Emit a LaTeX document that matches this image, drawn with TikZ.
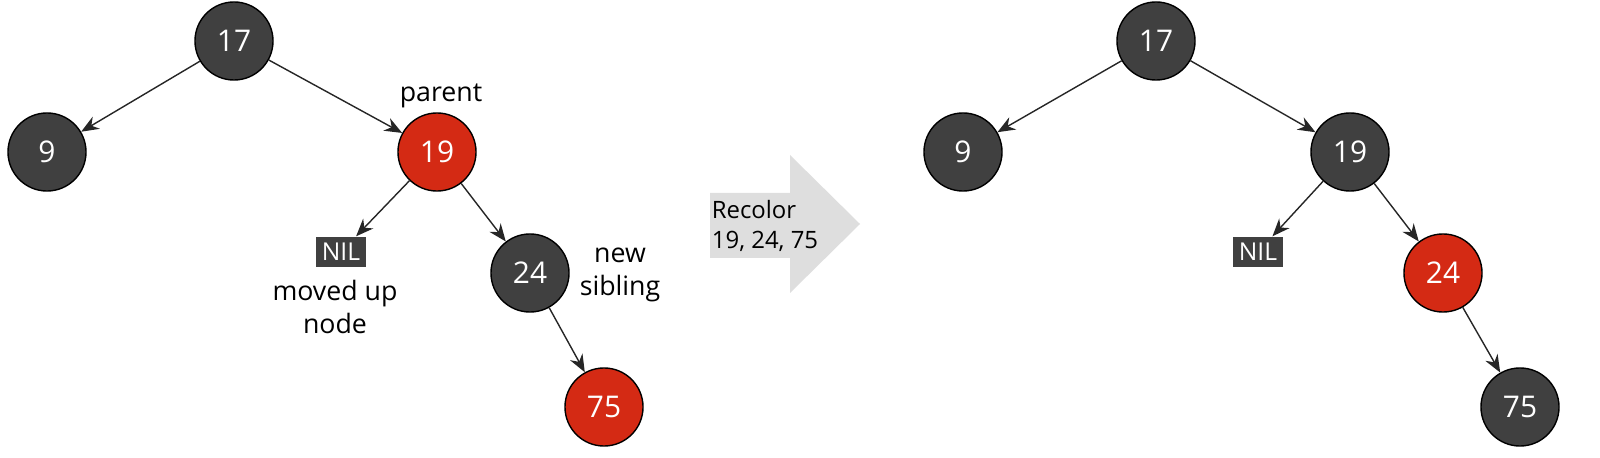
\documentclass[tikz,border=0pt]{standalone}
\usepackage{fontspec}
\setmainfont{Open Sans}
\usetikzlibrary{arrows.meta}
\definecolor{nodegray}{HTML}{404040}
\definecolor{nodered}{HTML}{D42A14}
\tikzset{
  rb node/.style={circle, draw=black, thin, minimum size=0.78cm, inner sep=0pt,
    text=white, font=\fontsize{8.5}{10}\selectfont},
  black node/.style={rb node, fill=nodegray},
  red node/.style={rb node, fill=nodered},
  nil node/.style={rectangle, fill=nodegray, text=white, inner sep=1.5pt,
    minimum width=0.5cm, minimum height=0.3cm, font=\fontsize{7}{8}\selectfont},
  tree edge/.style={-{Stealth[length=5pt,width=4pt]}, thin, black!85},
  note/.style={align=center, font=\fontsize{7.6}{9.5}\selectfont}
}
\begin{document}
\begin{tikzpicture}[x=0.01cm,y=-0.01cm]
\useasboundingbox (0,0) rectangle (1600,458);
% before recolouring
\node[black node] (l17) at (234,41) {17};
\node[black node] (l9) at (47,152) {9};
\node[red node] (l19) at (437,152) {19};
\node[nil node] (lnil) at (341,252) {NIL};
\node[black node] (l24) at (530,273) {24};
\node[red node] (l75) at (604,407) {75};
\draw[tree edge] (l17) -- (l9);
\draw[tree edge] (l17) -- (l19);
\draw[tree edge] (l19) -- (lnil);
\draw[tree edge] (l19) -- (l24);
\draw[tree edge] (l24) -- (l75);
\node[note] (parent) at (441,96) {parent};
\node[note] (moved) at (335,307) {moved up\\node};
\node[note] (sibling) at (620,275) {new\\sibling};
% step arrow
\fill[black!13] (710,193) -- (790,193) -- (790,155) -- (860,224)
  -- (790,293) -- (790,258) -- (710,258) -- cycle;
\node[align=left, font=\fontsize{6.8}{8.5}\selectfont] (steptext) at (765,226) {Recolor\\19, 24, 75};
% after recolouring
\node[black node] (r17) at (1156,41) {17};
\node[black node] (r9) at (963,152) {9};
\node[black node] (r19) at (1350,152) {19};
\node[nil node] (rnil) at (1258,252) {NIL};
\node[red node] (r24) at (1443,273) {24};
\node[black node] (r75) at (1520,407) {75};
\draw[tree edge] (r17) -- (r9);
\draw[tree edge] (r17) -- (r19);
\draw[tree edge] (r19) -- (rnil);
\draw[tree edge] (r19) -- (r24);
\draw[tree edge] (r24) -- (r75);
\end{tikzpicture}
\end{document}
